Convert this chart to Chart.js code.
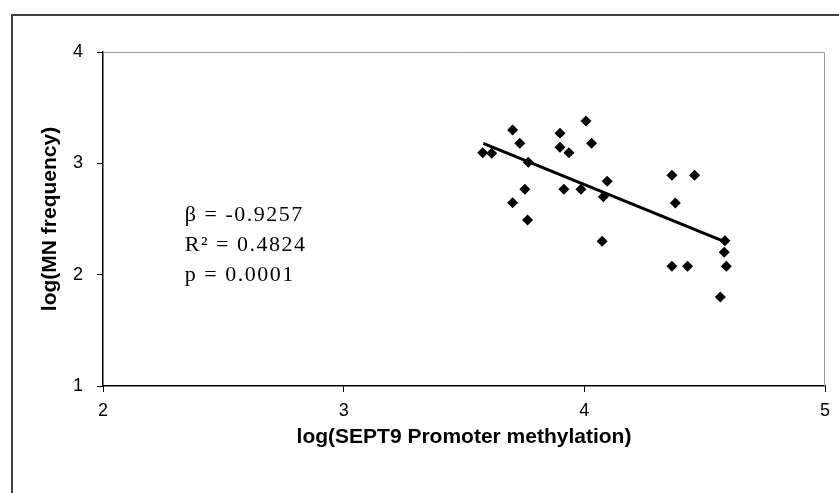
<!DOCTYPE html>
<html lang="en">
<head>
    <meta charset="UTF-8">
    <title>MN frequency vs SEPT9 methylation</title>
    <script src="https://cdn.jsdelivr.net/npm/chart.js"></script>
    <style>
        html, body { margin: 0; padding: 0; background: #fff; }
        #wrap { width: 839px; height: 493px; }
    </style>
</head>
<body>
    <div id="wrap"><canvas id="scatter"></canvas></div>
    <script>
        // log(SEPT9 promoter methylation) vs log(MN frequency)
        const methylation = [3.578, 3.615, 3.702, 3.732, 3.767, 3.753, 3.702, 3.764, 3.899, 3.899,
            3.936, 4.007, 4.030, 3.915, 3.986, 4.095, 4.079, 4.074, 4.364, 4.458,
            4.378, 4.364, 4.429, 4.584, 4.581, 4.590, 4.565];
        const mnFrequency = [3.096, 3.090, 3.300, 3.180, 3.009, 2.767, 2.646, 2.491, 3.270, 3.144,
            3.096, 3.380, 3.180, 2.767, 2.767, 2.839, 2.700, 2.300, 2.893, 2.893,
            2.644, 2.075, 2.075, 2.305, 2.201, 2.075, 1.799];
        // fitted line end points
        const fitX = [3.58, 4.58];
        const fitY = [3.18, 2.30];
        const statsText = ['β = -0.9257', 'R² = 0.4824', 'p = 0.0001'];

        const xTitle = 'log(SEPT9 Promoter methylation)';
        const yTitle = 'log(MN frequency)';

        const points = methylation.map((x, i) => ({ x: x, y: mnFrequency[i] }));
        const fitLine = fitX.map((x, i) => ({ x: x, y: fitY[i] }));

        const tickFont = { family: "'Liberation Sans', Arial, sans-serif", size: 18 };
        const titleFont = { family: "'Liberation Sans', Arial, sans-serif", size: 21, weight: 'bold' };

        // outer frame, gray top/right plot border and the stats text
        const decorations = {
            id: 'decorations',
            beforeDraw(chart) {
                const ctx = chart.ctx;
                ctx.save();
                ctx.strokeStyle = '#404040';
                ctx.lineWidth = 2;
                ctx.beginPath();
                ctx.moveTo(12, 493);
                ctx.lineTo(12, 15);
                ctx.lineTo(839, 15);
                ctx.stroke();
                ctx.restore();
            },
            afterDatasetsDraw(chart) {
                const ctx = chart.ctx;
                const a = chart.chartArea;
                ctx.save();
                ctx.strokeStyle = '#9a9a9a';
                ctx.lineWidth = 1;
                ctx.beginPath();
                ctx.moveTo(a.left, a.top + 0.5);
                ctx.lineTo(a.right - 0.5, a.top + 0.5);
                ctx.lineTo(a.right - 0.5, a.bottom);
                ctx.stroke();

                ctx.fillStyle = '#000';
                ctx.font = "22px 'Liberation Serif', 'Times New Roman', serif";
                ctx.letterSpacing = '1.5px';
                ctx.textBaseline = 'middle';
                ctx.textAlign = 'left';
                const sx = chart.scales.x, sy = chart.scales.y;
                const left = sx.getPixelForValue(2.34);
                statsText.forEach((t, i) => {
                    ctx.fillText(t, left, sy.getPixelForValue(2.53) + i * 30);
                });
                ctx.restore();
            }
        };

        new Chart(document.getElementById('scatter'), {
            type: 'scatter',
            data: {
                datasets: [
                    {
                        label: 'Samples',
                        data: points,
                        pointStyle: 'rectRot',
                        pointRadius: 5.5,
                        pointHoverRadius: 5.5,
                        backgroundColor: '#000',
                        borderColor: '#000',
                        borderWidth: 0
                    },
                    {
                        label: 'Fit',
                        data: fitLine,
                        showLine: true,
                        pointRadius: 0,
                        borderColor: '#000',
                        borderWidth: 3
                    }
                ]
            },
            options: {
                responsive: true,
                maintainAspectRatio: false,
                animation: false,
                layout: { padding: { left: 0, right: 14, top: 52, bottom: 0 } },
                plugins: {
                    legend: { display: false },
                    tooltip: { enabled: false }
                },
                scales: {
                    x: {
                        type: 'linear',
                        min: 2,
                        max: 5,
                        ticks: { stepSize: 1, color: '#000', font: tickFont, padding: 8 },
                        grid: { drawOnChartArea: false, tickLength: 6, color: '#000' },
                        border: { color: '#000', width: 1.5 },
                        title: { display: true, text: xTitle, color: '#000', font: titleFont, padding: { top: 0, bottom: 43 } },
                        afterFit(scale) { scale.height = 107; }
                    },
                    y: {
                        type: 'linear',
                        min: 1,
                        max: 4,
                        ticks: { stepSize: 1, color: '#000', font: tickFont, padding: 14 },
                        grid: { drawOnChartArea: false, tickLength: 6, color: '#000' },
                        border: { color: '#000', width: 1.5 },
                        title: { display: true, text: yTitle, color: '#000', font: titleFont, padding: { top: 38, bottom: 0 } },
                        afterFit(scale) { scale.width = 103; }
                    }
                }
            },
            plugins: [decorations]
        });
    </script>
</body>
</html>
